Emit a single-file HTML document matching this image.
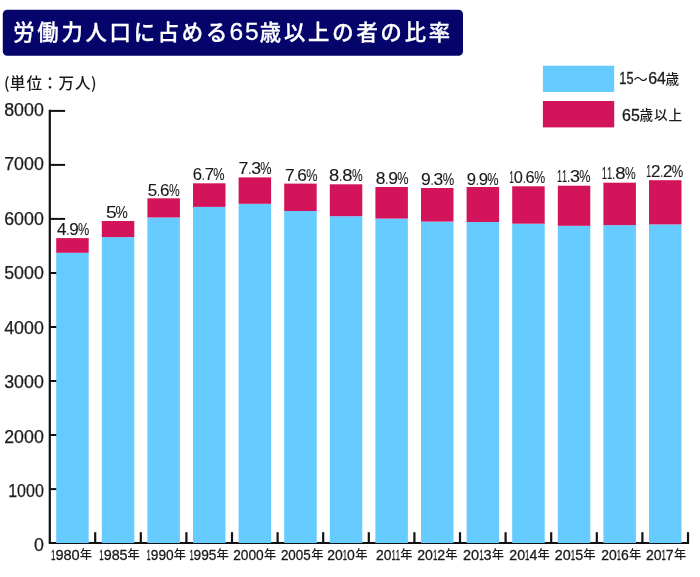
<!DOCTYPE html>
<html lang="ja"><head><meta charset="utf-8"><title>労働力人口に占める65歳以上の者の比率</title>
<style>html,body{margin:0;padding:0;background:#fff}svg{display:block}text{font-family:"Liberation Sans","Noto Sans CJK JP",sans-serif;fill:#1a1a1a}.jp{font-family:"Noto Sans CJK JP","Liberation Sans",sans-serif}.w{fill:#fff}</style></head><body>
<svg width="700" height="577" viewBox="0 0 700 577">
<rect width="700" height="577" fill="#fff"/>
<rect x="2.8" y="9.7" width="460.2" height="46.1" rx="4.5" ry="4.5" fill="#04046b"/>
<text class="jp w" y="39.9" font-size="21.3" font-weight="500" stroke="#fff" stroke-width="0.35"><tspan x="13.2" letter-spacing="2.8">労働力人口に占める</tspan><tspan x="229.4" y="39.8" font-size="24.6" font-weight="400" letter-spacing="1.9" stroke-width="0.3" style="font-family:'Liberation Sans','Noto Sans CJK JP',sans-serif">65</tspan><tspan x="259.8" y="39.9" letter-spacing="2.85">歳以上の者の比率</tspan></text>
<text class="jp" x="4 9.8 26.6 42.3 58.5 75 91" y="89" font-size="15.6" font-weight="500">(単位：万人)</text>
<rect x="542.9" y="65.7" width="71.3" height="26.3" fill="#66ccff"/>
<rect x="542.9" y="101" width="71.3" height="26.4" fill="#d4145a"/>
<text y="84.4" font-size="15.8" stroke="#1a1a1a" stroke-width="0.3"><tspan x="619.3" textLength="14.2" lengthAdjust="spacingAndGlyphs">15</tspan><tspan class="jp" x="633.4" font-size="14.2" stroke="none">〜</tspan><tspan x="648.2" textLength="17.8" lengthAdjust="spacingAndGlyphs">64</tspan><tspan class="jp" x="665.5" y="84.3" font-size="13.6" font-weight="500" stroke="none">歳</tspan></text>
<text y="120.6" font-size="15.8" stroke="#1a1a1a" stroke-width="0.3"><tspan x="622" textLength="17.8" lengthAdjust="spacingAndGlyphs">65</tspan><tspan class="jp" x="639.5 653.9 668.6" y="120.2" font-size="13.6" font-weight="500" stroke="none">歳以上</tspan></text>
<g stroke="#111" stroke-width="2" fill="none">
<path d="M49.8 109.8V543.0" stroke-width="2.2"/>
<path d="M48.8 543.0H689.1"/>
<path d="M49.8 489.1H65.1"/>
<path d="M49.8 435.0H65.1"/>
<path d="M49.8 381.0H65.1"/>
<path d="M49.8 327.0H65.1"/>
<path d="M49.8 273.0H65.1"/>
<path d="M49.8 218.9H65.1"/>
<path d="M49.8 164.9H65.1"/>
<path d="M49.8 110.9H65.1"/>
<path d="M95.2 532.2V543.2" stroke-width="2.2"/>
<path d="M140.8 532.2V543.2" stroke-width="2.2"/>
<path d="M186.4 532.2V543.2" stroke-width="2.2"/>
<path d="M232.0 532.2V543.2" stroke-width="2.2"/>
<path d="M277.6 532.2V543.2" stroke-width="2.2"/>
<path d="M323.2 532.2V543.2" stroke-width="2.2"/>
<path d="M368.8 532.2V543.2" stroke-width="2.2"/>
<path d="M414.4 532.2V543.2" stroke-width="2.2"/>
<path d="M460.0 532.2V543.2" stroke-width="2.2"/>
<path d="M505.6 532.2V543.2" stroke-width="2.2"/>
<path d="M551.2 532.2V543.2" stroke-width="2.2"/>
<path d="M596.8 532.2V543.2" stroke-width="2.2"/>
<path d="M642.4 532.2V543.2" stroke-width="2.2"/>
<path d="M688.0 532.2V543.2" stroke-width="2.2"/>
</g>
<rect x="56.2" y="252.8" width="32.5" height="290.2" fill="#66ccff"/>
<rect x="56.2" y="238.1" width="32.5" height="14.7" fill="#d4145a"/>
<rect x="101.8" y="237.1" width="32.5" height="305.9" fill="#66ccff"/>
<rect x="101.8" y="221.0" width="32.5" height="16.1" fill="#d4145a"/>
<rect x="147.4" y="217.5" width="32.5" height="325.5" fill="#66ccff"/>
<rect x="147.4" y="198.3" width="32.5" height="19.2" fill="#d4145a"/>
<rect x="193.0" y="206.9" width="32.5" height="336.1" fill="#66ccff"/>
<rect x="193.0" y="183.3" width="32.5" height="23.6" fill="#d4145a"/>
<rect x="238.6" y="203.8" width="32.5" height="339.2" fill="#66ccff"/>
<rect x="238.6" y="177.4" width="32.5" height="26.4" fill="#d4145a"/>
<rect x="284.2" y="211.0" width="32.5" height="332.0" fill="#66ccff"/>
<rect x="284.2" y="183.6" width="32.5" height="27.4" fill="#d4145a"/>
<rect x="329.8" y="216.2" width="32.5" height="326.8" fill="#66ccff"/>
<rect x="329.8" y="184.3" width="32.5" height="31.9" fill="#d4145a"/>
<rect x="375.4" y="218.6" width="32.5" height="324.4" fill="#66ccff"/>
<rect x="375.4" y="187.0" width="32.5" height="31.6" fill="#d4145a"/>
<rect x="421.0" y="221.6" width="32.5" height="321.4" fill="#66ccff"/>
<rect x="421.0" y="188.0" width="32.5" height="33.6" fill="#d4145a"/>
<rect x="466.6" y="222.0" width="32.5" height="321.0" fill="#66ccff"/>
<rect x="466.6" y="187.0" width="32.5" height="35.0" fill="#d4145a"/>
<rect x="512.2" y="223.7" width="32.5" height="319.3" fill="#66ccff"/>
<rect x="512.2" y="186.3" width="32.5" height="37.4" fill="#d4145a"/>
<rect x="557.8" y="225.8" width="32.5" height="317.2" fill="#66ccff"/>
<rect x="557.8" y="185.7" width="32.5" height="40.1" fill="#d4145a"/>
<rect x="603.4" y="225.1" width="32.5" height="317.9" fill="#66ccff"/>
<rect x="603.4" y="182.7" width="32.5" height="42.4" fill="#d4145a"/>
<rect x="649.0" y="224.4" width="32.5" height="318.6" fill="#66ccff"/>
<rect x="649.0" y="180.2" width="32.5" height="44.2" fill="#d4145a"/>
<text x="43.8" y="551.4" font-size="19.2" text-anchor="end" stroke="#1a1a1a" stroke-width="0.25" textLength="9.9" lengthAdjust="spacingAndGlyphs">0</text>
<text x="43.8" y="496.9" font-size="19.2" text-anchor="end" stroke="#1a1a1a" stroke-width="0.25" textLength="35.6" lengthAdjust="spacingAndGlyphs">1000</text>
<text x="43.8" y="442.5" font-size="19.2" text-anchor="end" stroke="#1a1a1a" stroke-width="0.25" textLength="39.6" lengthAdjust="spacingAndGlyphs">2000</text>
<text x="43.8" y="388.0" font-size="19.2" text-anchor="end" stroke="#1a1a1a" stroke-width="0.25" textLength="39.6" lengthAdjust="spacingAndGlyphs">3000</text>
<text x="43.8" y="333.6" font-size="19.2" text-anchor="end" stroke="#1a1a1a" stroke-width="0.25" textLength="39.6" lengthAdjust="spacingAndGlyphs">4000</text>
<text x="43.8" y="279.1" font-size="19.2" text-anchor="end" stroke="#1a1a1a" stroke-width="0.25" textLength="39.6" lengthAdjust="spacingAndGlyphs">5000</text>
<text x="43.8" y="224.7" font-size="19.2" text-anchor="end" stroke="#1a1a1a" stroke-width="0.25" textLength="39.6" lengthAdjust="spacingAndGlyphs">6000</text>
<text x="43.8" y="170.2" font-size="19.2" text-anchor="end" stroke="#1a1a1a" stroke-width="0.25" textLength="39.6" lengthAdjust="spacingAndGlyphs">7000</text>
<text x="43.8" y="115.8" font-size="19.2" text-anchor="end" stroke="#1a1a1a" stroke-width="0.25" textLength="39.6" lengthAdjust="spacingAndGlyphs">8000</text>
<text y="559.7" font-size="14.8" stroke="#1a1a1a" stroke-width="0.3"><tspan x="50.93" textLength="4.46" lengthAdjust="spacingAndGlyphs">1</tspan><tspan x="55.38" textLength="8.10" lengthAdjust="spacingAndGlyphs">9</tspan><tspan x="63.49" textLength="8.10" lengthAdjust="spacingAndGlyphs">8</tspan><tspan x="71.59" textLength="8.10" lengthAdjust="spacingAndGlyphs">0</tspan><tspan class="jp" x="79.64" y="559.4" font-size="12.3" font-weight="500" stroke="none">年</tspan></text>
<text y="559.7" font-size="14.8" stroke="#1a1a1a" stroke-width="0.3"><tspan x="99.30" textLength="4.38" lengthAdjust="spacingAndGlyphs">1</tspan><tspan x="103.68" textLength="7.96" lengthAdjust="spacingAndGlyphs">9</tspan><tspan x="111.64" textLength="7.96" lengthAdjust="spacingAndGlyphs">8</tspan><tspan x="119.60" textLength="7.96" lengthAdjust="spacingAndGlyphs">5</tspan><tspan class="jp" x="127.53" y="559.4" font-size="12.3" font-weight="500" stroke="none">年</tspan></text>
<text y="559.7" font-size="14.8" stroke="#1a1a1a" stroke-width="0.3"><tspan x="146.61" textLength="4.19" lengthAdjust="spacingAndGlyphs">1</tspan><tspan x="150.80" textLength="7.62" lengthAdjust="spacingAndGlyphs">9</tspan><tspan x="158.41" textLength="7.62" lengthAdjust="spacingAndGlyphs">9</tspan><tspan x="166.03" textLength="7.62" lengthAdjust="spacingAndGlyphs">0</tspan><tspan class="jp" x="173.64" y="559.4" font-size="12.3" font-weight="500" stroke="none">年</tspan></text>
<text y="559.7" font-size="14.8" stroke="#1a1a1a" stroke-width="0.3"><tspan x="189.40" textLength="4.19" lengthAdjust="spacingAndGlyphs">1</tspan><tspan x="193.59" textLength="7.62" lengthAdjust="spacingAndGlyphs">9</tspan><tspan x="201.20" textLength="7.62" lengthAdjust="spacingAndGlyphs">9</tspan><tspan x="208.82" textLength="7.62" lengthAdjust="spacingAndGlyphs">5</tspan><tspan class="jp" x="216.53" y="559.4" font-size="12.3" font-weight="500" stroke="none">年</tspan></text>
<text y="559.7" font-size="14.8" stroke="#1a1a1a" stroke-width="0.3"><tspan x="233.19" textLength="7.64" lengthAdjust="spacingAndGlyphs">2</tspan><tspan x="240.84" textLength="7.64" lengthAdjust="spacingAndGlyphs">0</tspan><tspan x="248.48" textLength="7.64" lengthAdjust="spacingAndGlyphs">0</tspan><tspan x="256.12" textLength="7.64" lengthAdjust="spacingAndGlyphs">0</tspan><tspan class="jp" x="263.95" y="559.4" font-size="12.3" font-weight="500" stroke="none">年</tspan></text>
<text y="559.7" font-size="14.8" stroke="#1a1a1a" stroke-width="0.3"><tspan x="280.89" textLength="7.48" lengthAdjust="spacingAndGlyphs">2</tspan><tspan x="288.37" textLength="7.48" lengthAdjust="spacingAndGlyphs">0</tspan><tspan x="295.85" textLength="7.48" lengthAdjust="spacingAndGlyphs">0</tspan><tspan x="303.33" textLength="7.48" lengthAdjust="spacingAndGlyphs">5</tspan><tspan class="jp" x="311.17" y="559.4" font-size="12.3" font-weight="500" stroke="none">年</tspan></text>
<text y="559.7" font-size="14.8" stroke="#1a1a1a" stroke-width="0.3"><tspan x="327.22" textLength="7.78" lengthAdjust="spacingAndGlyphs">2</tspan><tspan x="335.00" textLength="7.78" lengthAdjust="spacingAndGlyphs">0</tspan><tspan x="342.78" textLength="4.28" lengthAdjust="spacingAndGlyphs">1</tspan><tspan x="347.05" textLength="7.78" lengthAdjust="spacingAndGlyphs">0</tspan><tspan class="jp" x="355.17" y="559.4" font-size="12.3" font-weight="500" stroke="none">年</tspan></text>
<text y="559.7" font-size="14.8" stroke="#1a1a1a" stroke-width="0.3"><tspan x="375.96" textLength="7.72" lengthAdjust="spacingAndGlyphs">2</tspan><tspan x="383.68" textLength="7.72" lengthAdjust="spacingAndGlyphs">0</tspan><tspan x="391.40" textLength="4.24" lengthAdjust="spacingAndGlyphs">1</tspan><tspan x="395.64" textLength="4.24" lengthAdjust="spacingAndGlyphs">1</tspan><tspan class="jp" x="400.34" y="559.4" font-size="12.3" font-weight="500" stroke="none">年</tspan></text>
<text y="559.7" font-size="14.8" stroke="#1a1a1a" stroke-width="0.3"><tspan x="417.18" textLength="7.88" lengthAdjust="spacingAndGlyphs">2</tspan><tspan x="425.07" textLength="7.88" lengthAdjust="spacingAndGlyphs">0</tspan><tspan x="432.95" textLength="4.34" lengthAdjust="spacingAndGlyphs">1</tspan><tspan x="437.28" textLength="7.88" lengthAdjust="spacingAndGlyphs">2</tspan><tspan class="jp" x="445.34" y="559.4" font-size="12.3" font-weight="500" stroke="none">年</tspan></text>
<text y="559.7" font-size="14.8" stroke="#1a1a1a" stroke-width="0.3"><tspan x="463.03" textLength="8.07" lengthAdjust="spacingAndGlyphs">2</tspan><tspan x="471.11" textLength="8.07" lengthAdjust="spacingAndGlyphs">0</tspan><tspan x="479.18" textLength="4.44" lengthAdjust="spacingAndGlyphs">1</tspan><tspan x="483.62" textLength="8.07" lengthAdjust="spacingAndGlyphs">3</tspan><tspan class="jp" x="491.83" y="559.4" font-size="12.3" font-weight="500" stroke="none">年</tspan></text>
<text y="559.7" font-size="14.8" stroke="#1a1a1a" stroke-width="0.3"><tspan x="509.27" textLength="7.89" lengthAdjust="spacingAndGlyphs">2</tspan><tspan x="517.16" textLength="7.89" lengthAdjust="spacingAndGlyphs">0</tspan><tspan x="525.05" textLength="4.34" lengthAdjust="spacingAndGlyphs">1</tspan><tspan x="529.39" textLength="7.89" lengthAdjust="spacingAndGlyphs">4</tspan><tspan class="jp" x="537.53" y="559.4" font-size="12.3" font-weight="500" stroke="none">年</tspan></text>
<text y="559.7" font-size="14.8" stroke="#1a1a1a" stroke-width="0.3"><tspan x="554.85" textLength="7.97" lengthAdjust="spacingAndGlyphs">2</tspan><tspan x="562.82" textLength="7.97" lengthAdjust="spacingAndGlyphs">0</tspan><tspan x="570.79" textLength="4.39" lengthAdjust="spacingAndGlyphs">1</tspan><tspan x="575.18" textLength="7.97" lengthAdjust="spacingAndGlyphs">5</tspan><tspan class="jp" x="583.25" y="559.4" font-size="12.3" font-weight="500" stroke="none">年</tspan></text>
<text y="559.7" font-size="14.8" stroke="#1a1a1a" stroke-width="0.3"><tspan x="601.37" textLength="7.75" lengthAdjust="spacingAndGlyphs">2</tspan><tspan x="609.11" textLength="7.75" lengthAdjust="spacingAndGlyphs">0</tspan><tspan x="616.86" textLength="4.26" lengthAdjust="spacingAndGlyphs">1</tspan><tspan x="621.12" textLength="7.75" lengthAdjust="spacingAndGlyphs">6</tspan><tspan class="jp" x="628.95" y="559.4" font-size="12.3" font-weight="500" stroke="none">年</tspan></text>
<text y="559.7" font-size="14.8" stroke="#1a1a1a" stroke-width="0.3"><tspan x="645.88" textLength="7.83" lengthAdjust="spacingAndGlyphs">2</tspan><tspan x="653.72" textLength="7.83" lengthAdjust="spacingAndGlyphs">0</tspan><tspan x="661.55" textLength="4.31" lengthAdjust="spacingAndGlyphs">1</tspan><tspan x="665.86" textLength="7.83" lengthAdjust="spacingAndGlyphs">7</tspan><tspan class="jp" x="673.95" y="559.4" font-size="12.3" font-weight="500" stroke="none">年</tspan></text>
<text y="234.9" font-size="17" stroke="#1a1a1a" stroke-width="0.12"><tspan x="57.03" textLength="9.52" lengthAdjust="spacingAndGlyphs">4</tspan><tspan x="66.55" textLength="2.62" lengthAdjust="spacingAndGlyphs">.</tspan><tspan x="69.17" textLength="9.52" lengthAdjust="spacingAndGlyphs">9</tspan><tspan x="77.94" textLength="11.25" lengthAdjust="spacingAndGlyphs">%</tspan></text>
<text y="218.2" font-size="17" stroke="#1a1a1a" stroke-width="0.12"><tspan x="105.94" textLength="10.72" lengthAdjust="spacingAndGlyphs">5</tspan><tspan x="115.61" textLength="12.21" lengthAdjust="spacingAndGlyphs">%</tspan></text>
<text y="195.5" font-size="17" stroke="#1a1a1a" stroke-width="0.12"><tspan x="147.86" textLength="9.47" lengthAdjust="spacingAndGlyphs">5</tspan><tspan x="157.33" textLength="2.60" lengthAdjust="spacingAndGlyphs">.</tspan><tspan x="159.93" textLength="9.47" lengthAdjust="spacingAndGlyphs">6</tspan><tspan x="168.95" textLength="10.70" lengthAdjust="spacingAndGlyphs">%</tspan></text>
<text y="180.3" font-size="17" stroke="#1a1a1a" stroke-width="0.12"><tspan x="192.84" textLength="9.28" lengthAdjust="spacingAndGlyphs">6</tspan><tspan x="202.12" textLength="2.55" lengthAdjust="spacingAndGlyphs">.</tspan><tspan x="204.67" textLength="9.28" lengthAdjust="spacingAndGlyphs">7</tspan><tspan x="213.13" textLength="11.28" lengthAdjust="spacingAndGlyphs">%</tspan></text>
<text y="173.9" font-size="17" stroke="#1a1a1a" stroke-width="0.12"><tspan x="238.63" textLength="9.84" lengthAdjust="spacingAndGlyphs">7</tspan><tspan x="248.47" textLength="2.70" lengthAdjust="spacingAndGlyphs">.</tspan><tspan x="251.17" textLength="9.84" lengthAdjust="spacingAndGlyphs">3</tspan><tspan x="260.13" textLength="11.28" lengthAdjust="spacingAndGlyphs">%</tspan></text>
<text y="180.5" font-size="17" stroke="#1a1a1a" stroke-width="0.12"><tspan x="285.07" textLength="9.62" lengthAdjust="spacingAndGlyphs">7</tspan><tspan x="294.69" textLength="2.64" lengthAdjust="spacingAndGlyphs">.</tspan><tspan x="297.33" textLength="9.62" lengthAdjust="spacingAndGlyphs">6</tspan><tspan x="306.13" textLength="11.28" lengthAdjust="spacingAndGlyphs">%</tspan></text>
<text y="181.3" font-size="17" stroke="#1a1a1a" stroke-width="0.12"><tspan x="329.13" textLength="10.23" lengthAdjust="spacingAndGlyphs">8</tspan><tspan x="339.35" textLength="2.81" lengthAdjust="spacingAndGlyphs">.</tspan><tspan x="342.17" textLength="10.23" lengthAdjust="spacingAndGlyphs">8</tspan><tspan x="351.95" textLength="10.70" lengthAdjust="spacingAndGlyphs">%</tspan></text>
<text y="183.5" font-size="17" stroke="#1a1a1a" stroke-width="0.12"><tspan x="375.81" textLength="9.75" lengthAdjust="spacingAndGlyphs">8</tspan><tspan x="385.56" textLength="2.68" lengthAdjust="spacingAndGlyphs">.</tspan><tspan x="388.24" textLength="9.75" lengthAdjust="spacingAndGlyphs">9</tspan><tspan x="397.13" textLength="11.28" lengthAdjust="spacingAndGlyphs">%</tspan></text>
<text y="184.9" font-size="17" stroke="#1a1a1a" stroke-width="0.12"><tspan x="421.01" textLength="9.76" lengthAdjust="spacingAndGlyphs">9</tspan><tspan x="430.77" textLength="2.68" lengthAdjust="spacingAndGlyphs">.</tspan><tspan x="433.45" textLength="9.76" lengthAdjust="spacingAndGlyphs">3</tspan><tspan x="442.76" textLength="11.44" lengthAdjust="spacingAndGlyphs">%</tspan></text>
<text y="184.5" font-size="17" stroke="#1a1a1a" stroke-width="0.12"><tspan x="466.84" textLength="9.28" lengthAdjust="spacingAndGlyphs">9</tspan><tspan x="476.12" textLength="2.55" lengthAdjust="spacingAndGlyphs">.</tspan><tspan x="478.67" textLength="9.28" lengthAdjust="spacingAndGlyphs">9</tspan><tspan x="487.13" textLength="11.28" lengthAdjust="spacingAndGlyphs">%</tspan></text>
<text y="182.9" font-size="17" stroke="#1a1a1a" stroke-width="0.12"><tspan x="509.20" textLength="4.66" lengthAdjust="spacingAndGlyphs">1</tspan><tspan x="513.86" textLength="9.13" lengthAdjust="spacingAndGlyphs">0</tspan><tspan x="522.99" textLength="2.51" lengthAdjust="spacingAndGlyphs">.</tspan><tspan x="525.50" textLength="9.13" lengthAdjust="spacingAndGlyphs">6</tspan><tspan x="534.21" textLength="10.93" lengthAdjust="spacingAndGlyphs">%</tspan></text>
<text y="181.9" font-size="17" stroke="#1a1a1a" stroke-width="0.12"><tspan x="556.93" textLength="5.12" lengthAdjust="spacingAndGlyphs">1</tspan><tspan x="562.05" textLength="5.12" lengthAdjust="spacingAndGlyphs">1</tspan><tspan x="567.18" textLength="2.76" lengthAdjust="spacingAndGlyphs">.</tspan><tspan x="569.94" textLength="10.04" lengthAdjust="spacingAndGlyphs">3</tspan><tspan x="579.13" textLength="11.28" lengthAdjust="spacingAndGlyphs">%</tspan></text>
<text y="179.2" font-size="17" stroke="#1a1a1a" stroke-width="0.12"><tspan x="601.78" textLength="5.28" lengthAdjust="spacingAndGlyphs">1</tspan><tspan x="607.06" textLength="5.28" lengthAdjust="spacingAndGlyphs">1</tspan><tspan x="612.34" textLength="2.85" lengthAdjust="spacingAndGlyphs">.</tspan><tspan x="615.19" textLength="10.36" lengthAdjust="spacingAndGlyphs">8</tspan><tspan x="624.95" textLength="10.70" lengthAdjust="spacingAndGlyphs">%</tspan></text>
<text y="176.9" font-size="17" stroke="#1a1a1a" stroke-width="0.12"><tspan x="646.19" textLength="4.84" lengthAdjust="spacingAndGlyphs">1</tspan><tspan x="651.02" textLength="9.48" lengthAdjust="spacingAndGlyphs">2</tspan><tspan x="660.50" textLength="2.61" lengthAdjust="spacingAndGlyphs">.</tspan><tspan x="663.11" textLength="9.48" lengthAdjust="spacingAndGlyphs">2</tspan><tspan x="671.76" textLength="11.44" lengthAdjust="spacingAndGlyphs">%</tspan></text>
</svg></body></html>
